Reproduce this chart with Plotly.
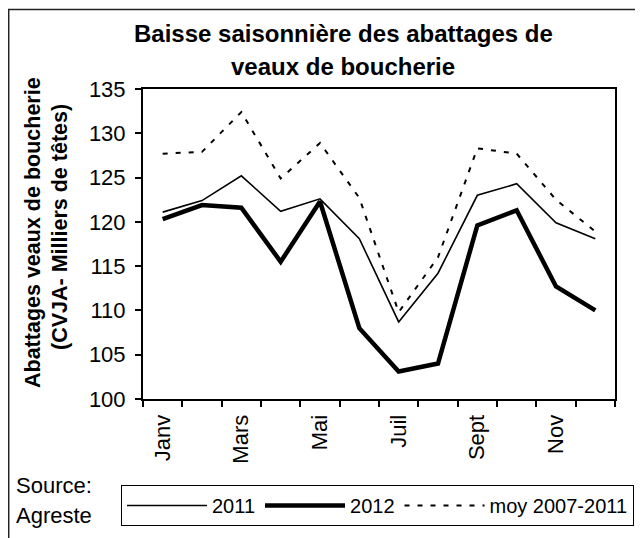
import plotly.graph_objects as go

months = ["Janv", "Févr", "Mars", "Avr", "Mai", "Juin", "Juil", "Août", "Sept", "Oct", "Nov", "Déc"]
shown_labels = ["Janv", "Mars", "Mai", "Juil", "Sept", "Nov"]
v2011 = [121.1, 122.4, 125.2, 121.2, 122.6, 118.1, 108.7, 114.2, 123.0, 124.3, 119.9, 118.1]
v2012 = [120.3, 121.9, 121.6, 115.5, 122.3, 108.0, 103.1, 104.0, 119.6, 121.3, 112.7, 110.0]
vmoy = [127.7, 127.9, 132.4, 124.9, 128.9, 122.7, 109.8, 116.0, 128.3, 127.7, 122.5, 118.9]
y_ticks = [100, 105, 110, 115, 120, 125, 130, 135]

W, H = 643, 538
OFF = 8  # page body margin in the browser
# plot area in page pixels
PL, PR, PT, PB = 143, 615, 89, 399
L, R, T, B = PL - OFF, PR - OFF, PT - OFF, PB - OFF
FONT = "Arial, Liberation Sans, sans-serif"


def px(x):
    return (x - PL) / (PR - PL)


def py(y):
    return (PB - y) / (PB - PT)


fig = go.Figure()
fig.add_trace(go.Scatter(x=months, y=v2011, mode="lines", name="2011",
                         line=dict(color="black", width=1.6)))
fig.add_trace(go.Scatter(x=months, y=v2012, mode="lines", name="2012",
                         line=dict(color="black", width=4.5)))
fig.add_trace(go.Scatter(x=months, y=vmoy, mode="lines", name="moy 2007-2011",
                         line=dict(color="black", width=2, dash="5px,8px")))

fig.update_layout(
    width=W, height=H,
    margin=dict(l=L, r=W - R, t=T, b=H - B, autoexpand=False),
    paper_bgcolor="white", plot_bgcolor="white",
    font=dict(family=FONT, size=22, color="black"),
    showlegend=True,
    legend=dict(orientation="h", x=px(121), y=py(485), xanchor="left", yanchor="top",
                bordercolor="black", borderwidth=1, bgcolor="white",
                font=dict(size=20, family=FONT), itemwidth=80, tracegroupgap=0),
)
fig.update_xaxes(
    type="category", categoryarray=months, categoryorder="array",
    tickmode="array", tickvals=months,
    ticktext=[m if m in shown_labels else "" for m in months],
    tickson="boundaries", ticks="outside", ticklen=6, tickwidth=1.5, tickcolor="black",
    tickangle=-90, tickfont=dict(size=22), ticklabelstandoff=5,
    showline=True, linecolor="black", linewidth=2, mirror=True,
    showgrid=False, zeroline=False, range=[-0.5, 11.5],
)
fig.update_yaxes(
    range=[100, 135], tickmode="array", tickvals=y_ticks,
    ticks="outside", ticklen=6, tickwidth=1.5, tickcolor="black",
    tickfont=dict(size=22), ticklabelstandoff=5,
    showline=True, linecolor="black", linewidth=2, mirror=True,
    showgrid=False, zeroline=False,
)

ann = [
    dict(text="<b>Baisse saisonnière des abattages de</b>", x=px(343), y=py(34), size=24, angle=0, xa="center"),
    dict(text="<b>veaux de boucherie</b>", x=px(343), y=py(67), size=24, angle=0, xa="center"),
    dict(text="<b>Abattages veaux de boucherie</b>", x=px(33), y=py(233), size=21.5, angle=-90, xa="center"),
    dict(text="<b>(CVJA- Milliers de têtes)</b>", x=px(60), y=py(227), size=21.5, angle=-90, xa="center"),
    dict(text="Source:", x=px(14), y=py(485), size=22, angle=0, xa="left"),
    dict(text="Agreste", x=px(14), y=py(515), size=22, angle=0, xa="left"),
]
for a in ann:
    fig.add_annotation(text=a["text"], x=a["x"], y=a["y"], xref="paper", yref="paper",
                       showarrow=False, textangle=a["angle"], xanchor=a["xa"], yanchor="middle",
                       font=dict(size=a["size"], family=FONT, color="black"))

fig.add_shape(type="rect", xref="paper", yref="paper",
              x0=px(8.7), x1=px(660), y0=py(560), y1=py(9.5),
              line=dict(color="#222222", width=1.5), fillcolor="rgba(0,0,0,0)", layer="below")

fig.write_html("out.html")
